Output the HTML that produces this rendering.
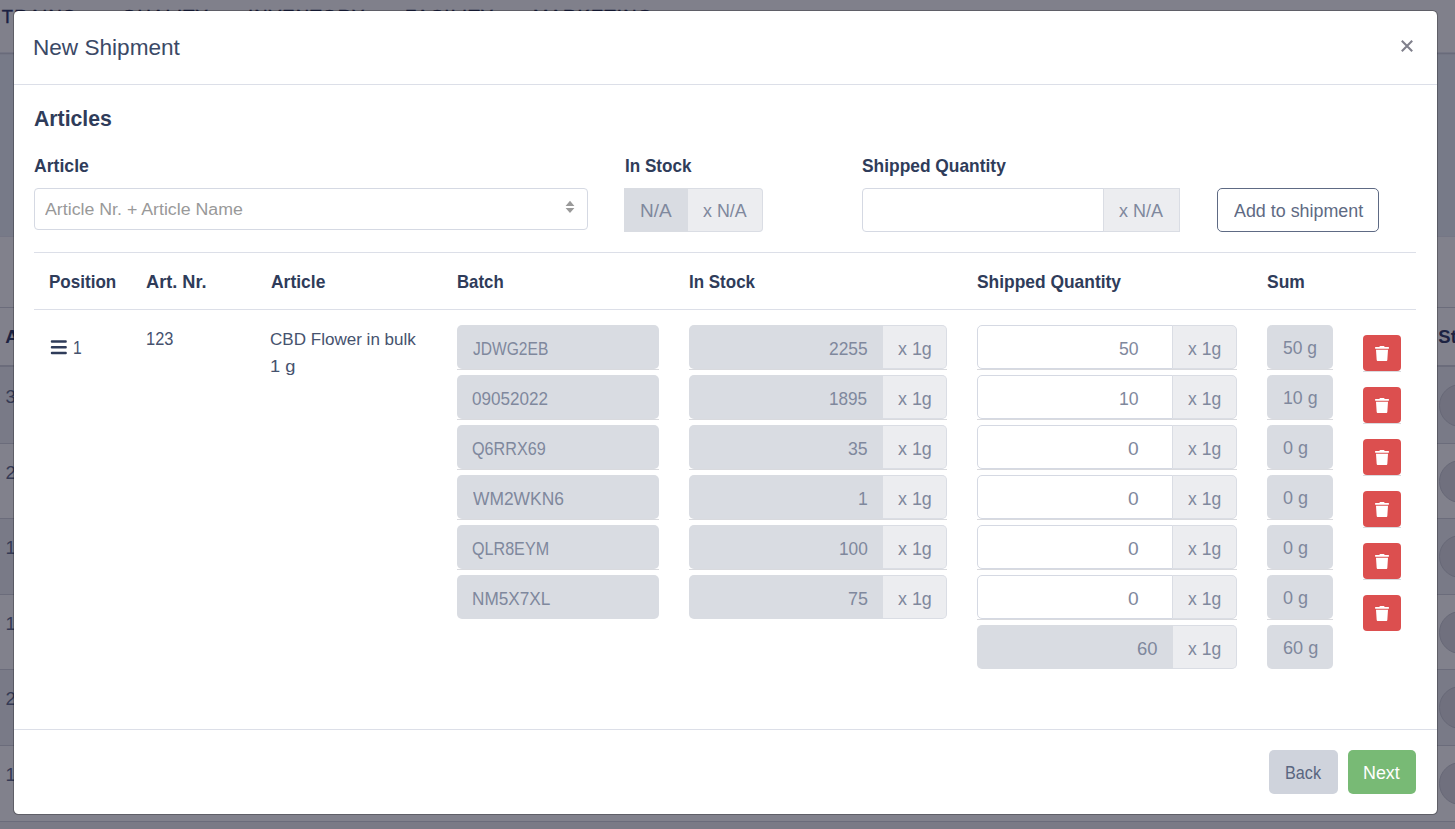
<!DOCTYPE html>
<html lang="en"><head><meta charset="utf-8"><title>New Shipment</title>
<style>
html,body{margin:0;padding:0}
body{width:1455px;height:829px;overflow:hidden;position:relative;background:#777a88;font-family:"Liberation Sans",sans-serif}
.b{position:absolute;box-sizing:border-box;display:block}
.t{position:absolute;white-space:pre;line-height:24px;transform-origin:0 0;display:block}
#modal{position:absolute;left:13px;top:10px;width:1425px;height:805px;box-sizing:border-box;background:#fff;border:1px solid rgba(0,0,0,.26);border-radius:5.5px;background-clip:padding-box}
#layer{position:absolute;left:0;top:0;width:1455px;height:829px}
</style></head><body>
<div id="bg">
<div class="b" style="left:0px;top:0px;width:1455px;height:52px;background:#80808b"></div>
<div class="b" style="left:0px;top:52px;width:1455px;height:1px;background:#747584"></div>
<div class="b" style="left:0px;top:53px;width:1455px;height:1px;background:#696b7a"></div>
<div class="b" style="left:0px;top:54px;width:1455px;height:1px;background:#737584"></div>
<div class="b" style="left:0px;top:236px;width:1455px;height:586px;background:#81818c"></div>
<div class="b" style="left:0px;top:236px;width:1455px;height:1px;background:#757685"></div>
<div class="b" style="left:0px;top:822px;width:1455px;height:7px;background:#7a7a86"></div>
<div class="b" style="left:0px;top:307px;width:1455px;height:1px;background:#6b6c7b"></div>
<div class="b" style="left:0px;top:365px;width:1455px;height:2px;background:#6b6c7b"></div>
<div class="b" style="left:0px;top:367px;width:1455px;height:76px;background:#797a87"></div>
<div class="b" style="left:0px;top:518px;width:1455px;height:76px;background:#797a87"></div>
<div class="b" style="left:0px;top:669px;width:1455px;height:76px;background:#797a87"></div>
<div class="b" style="left:0px;top:443px;width:1455px;height:1px;background:#6b6c7b"></div>
<div class="b" style="left:1438.5px;top:384.0px;width:43px;height:43px;border-radius:50%;background:#70707e;border:1px solid #676877"></div>
<div class="b" style="left:0px;top:518px;width:1455px;height:1px;background:#6b6c7b"></div>
<div class="b" style="left:1438.5px;top:459.5px;width:43px;height:43px;border-radius:50%;background:#70707e;border:1px solid #676877"></div>
<div class="b" style="left:0px;top:594px;width:1455px;height:1px;background:#6b6c7b"></div>
<div class="b" style="left:1438.5px;top:535.0px;width:43px;height:43px;border-radius:50%;background:#70707e;border:1px solid #676877"></div>
<div class="b" style="left:0px;top:669px;width:1455px;height:1px;background:#6b6c7b"></div>
<div class="b" style="left:1438.5px;top:610.5px;width:43px;height:43px;border-radius:50%;background:#70707e;border:1px solid #676877"></div>
<div class="b" style="left:0px;top:745px;width:1455px;height:1px;background:#6b6c7b"></div>
<div class="b" style="left:1438.5px;top:686.0px;width:43px;height:43px;border-radius:50%;background:#70707e;border:1px solid #676877"></div>
<div class="b" style="left:0px;top:821px;width:1455px;height:1px;background:#6b6c7b"></div>
<div class="b" style="left:1438.5px;top:762.0px;width:43px;height:43px;border-radius:50%;background:#70707e;border:1px solid #676877"></div>
<span class="t" style="left:1.8px;top:4.62px;font-size:18.4px;font-weight:400;color:#1b2142;letter-spacing:1.2px;-webkit-text-stroke:0.4px #1b2142">TRAINS</span>
<span class="t" style="left:122px;top:4.62px;font-size:18.4px;font-weight:400;color:#1b2142;letter-spacing:1.2px;-webkit-text-stroke:0.4px #1b2142">QUALITY</span>
<span class="t" style="left:248px;top:4.62px;font-size:18.4px;font-weight:400;color:#1b2142;letter-spacing:1.2px;-webkit-text-stroke:0.4px #1b2142">INVENTORY</span>
<span class="t" style="left:405px;top:4.62px;font-size:18.4px;font-weight:400;color:#1b2142;letter-spacing:1.2px;-webkit-text-stroke:0.4px #1b2142">FACILITY</span>
<span class="t" style="left:533px;top:4.62px;font-size:18.4px;font-weight:400;color:#1b2142;letter-spacing:1.2px;-webkit-text-stroke:0.4px #1b2142">MARKETING</span>
<span class="t" style="left:5.2px;top:324.59px;font-size:18.5px;font-weight:700;color:#1d2342;">A</span>
<span class="t" style="left:1438.3px;top:324.59px;font-size:18.5px;font-weight:700;color:#1d2342;">Status</span>
<span class="t" style="left:5.5px;top:385.09px;font-size:18.5px;font-weight:400;color:#353a55;">3</span>
<span class="t" style="left:5.5px;top:460.59px;font-size:18.5px;font-weight:400;color:#353a55;">2</span>
<span class="t" style="left:5.5px;top:536.09px;font-size:18.5px;font-weight:400;color:#353a55;">1</span>
<span class="t" style="left:5.5px;top:611.59px;font-size:18.5px;font-weight:400;color:#353a55;">1</span>
<span class="t" style="left:5.5px;top:687.09px;font-size:18.5px;font-weight:400;color:#353a55;">2</span>
<span class="t" style="left:5.5px;top:762.59px;font-size:18.5px;font-weight:400;color:#353a55;">1</span>
</div>
<div id="modal"></div>
<div id="layer">
<div class="b" style="left:14px;top:84px;width:1423px;height:1px;background:#dcdfe8"></div>
<div class="b" style="left:14px;top:729px;width:1423px;height:1px;background:#dcdfe8"></div>
<div class="b" style="left:34px;top:252px;width:1382px;height:1px;background:#dcdfe8"></div>
<div class="b" style="left:34px;top:309px;width:1382px;height:1px;background:#dcdfe8"></div>
<div class="b" style="left:34px;top:188px;width:554px;height:42px;border:1px solid #d5d9e3;border-radius:4px;background:#fff"></div>
<div class="b" style="left:624px;top:188px;width:64px;height:44px;background:#d9dce2"></div>
<div class="b" style="left:688px;top:188px;width:75px;height:44px;background:#ecedf0;border:1px solid #dadde4;border-left:0;border-radius:0 4px 4px 0"></div>
<div class="b" style="left:862px;top:188px;width:242px;height:44px;border:1px solid #d5d9e3;border-radius:4px 0 0 4px;background:#fff"></div>
<div class="b" style="left:1103px;top:188px;width:77px;height:44px;background:#ecedf0;border:1px solid #dadde4"></div>
<div class="b" style="left:1217px;top:188px;width:162px;height:44px;border:1px solid #5e6a84;border-radius:5px;background:#fff"></div>
<div class="b" style="left:457px;top:369px;width:202px;height:1px;background:#d9dade"></div>
<div class="b" style="left:689px;top:369px;width:258px;height:1px;background:#d9dade"></div>
<div class="b" style="left:977px;top:369px;width:260px;height:1px;background:#d9dade"></div>
<div class="b" style="left:1267px;top:369px;width:66px;height:1px;background:#d9dade"></div>
<div class="b" style="left:457px;top:325px;width:202px;height:44px;background:#d9dce2;border-radius:5px;"></div>
<div class="b" style="left:689px;top:325px;width:194px;height:44px;background:#d9dce2;border-radius:5px 0 0 5px;"></div>
<div class="b" style="left:883px;top:325px;width:64px;height:44px;background:#ecedf0;border:1px solid #dadde4;border-left:0;border-radius:0 5px 5px 0;"></div>
<div class="b" style="left:977px;top:325px;width:196px;height:44px;background:#fff;border:1px solid #d5d9e3;border-radius:5px 0 0 5px;"></div>
<div class="b" style="left:1172px;top:325px;width:65px;height:44px;background:#ecedf0;border:1px solid #dadde4;border-radius:0 5px 5px 0;"></div>
<div class="b" style="left:1267px;top:325px;width:66px;height:44px;background:#d9dce2;border-radius:5px;"></div>
<div class="b" style="left:1363px;top:335px;width:38px;height:36px;background:#dc4f4f;border-radius:4px;"></div>
<div class="b" style="left:1363px;top:371px;width:38px;height:1px;background:#d9dade"></div>
<svg class="b" style="left:1375px;top:345.8px" width="14" height="15.2" viewBox="0 0 448 512" preserveAspectRatio="none"><path fill="#fff" d="M432 32H312l-9.4-18.7A24 24 0 0 0 281.1 0H166.8a23.72 23.72 0 0 0-21.4 13.3L136 32H16A16 16 0 0 0 0 48v32a16 16 0 0 0 16 16h416a16 16 0 0 0 16-16V48a16 16 0 0 0-16-16zM53.2 467a48 48 0 0 0 47.9 45h245.8a48 48 0 0 0 47.9-45L416 128H32z"/></svg>
<div class="b" style="left:457px;top:419px;width:202px;height:1px;background:#d9dade"></div>
<div class="b" style="left:689px;top:419px;width:258px;height:1px;background:#d9dade"></div>
<div class="b" style="left:977px;top:419px;width:260px;height:1px;background:#d9dade"></div>
<div class="b" style="left:1267px;top:419px;width:66px;height:1px;background:#d9dade"></div>
<div class="b" style="left:457px;top:375px;width:202px;height:44px;background:#d9dce2;border-radius:5px;"></div>
<div class="b" style="left:689px;top:375px;width:194px;height:44px;background:#d9dce2;border-radius:5px 0 0 5px;"></div>
<div class="b" style="left:883px;top:375px;width:64px;height:44px;background:#ecedf0;border:1px solid #dadde4;border-left:0;border-radius:0 5px 5px 0;"></div>
<div class="b" style="left:977px;top:375px;width:196px;height:44px;background:#fff;border:1px solid #d5d9e3;border-radius:5px 0 0 5px;"></div>
<div class="b" style="left:1172px;top:375px;width:65px;height:44px;background:#ecedf0;border:1px solid #dadde4;border-radius:0 5px 5px 0;"></div>
<div class="b" style="left:1267px;top:375px;width:66px;height:44px;background:#d9dce2;border-radius:5px;"></div>
<div class="b" style="left:1363px;top:387px;width:38px;height:36px;background:#dc4f4f;border-radius:4px;"></div>
<div class="b" style="left:1363px;top:423px;width:38px;height:1px;background:#d9dade"></div>
<svg class="b" style="left:1375px;top:397.8px" width="14" height="15.2" viewBox="0 0 448 512" preserveAspectRatio="none"><path fill="#fff" d="M432 32H312l-9.4-18.7A24 24 0 0 0 281.1 0H166.8a23.72 23.72 0 0 0-21.4 13.3L136 32H16A16 16 0 0 0 0 48v32a16 16 0 0 0 16 16h416a16 16 0 0 0 16-16V48a16 16 0 0 0-16-16zM53.2 467a48 48 0 0 0 47.9 45h245.8a48 48 0 0 0 47.9-45L416 128H32z"/></svg>
<div class="b" style="left:457px;top:469px;width:202px;height:1px;background:#d9dade"></div>
<div class="b" style="left:689px;top:469px;width:258px;height:1px;background:#d9dade"></div>
<div class="b" style="left:977px;top:469px;width:260px;height:1px;background:#d9dade"></div>
<div class="b" style="left:1267px;top:469px;width:66px;height:1px;background:#d9dade"></div>
<div class="b" style="left:457px;top:425px;width:202px;height:44px;background:#d9dce2;border-radius:5px;"></div>
<div class="b" style="left:689px;top:425px;width:194px;height:44px;background:#d9dce2;border-radius:5px 0 0 5px;"></div>
<div class="b" style="left:883px;top:425px;width:64px;height:44px;background:#ecedf0;border:1px solid #dadde4;border-left:0;border-radius:0 5px 5px 0;"></div>
<div class="b" style="left:977px;top:425px;width:196px;height:44px;background:#fff;border:1px solid #d5d9e3;border-radius:5px 0 0 5px;"></div>
<div class="b" style="left:1172px;top:425px;width:65px;height:44px;background:#ecedf0;border:1px solid #dadde4;border-radius:0 5px 5px 0;"></div>
<div class="b" style="left:1267px;top:425px;width:66px;height:44px;background:#d9dce2;border-radius:5px;"></div>
<div class="b" style="left:1363px;top:439px;width:38px;height:36px;background:#dc4f4f;border-radius:4px;"></div>
<div class="b" style="left:1363px;top:475px;width:38px;height:1px;background:#d9dade"></div>
<svg class="b" style="left:1375px;top:449.8px" width="14" height="15.2" viewBox="0 0 448 512" preserveAspectRatio="none"><path fill="#fff" d="M432 32H312l-9.4-18.7A24 24 0 0 0 281.1 0H166.8a23.72 23.72 0 0 0-21.4 13.3L136 32H16A16 16 0 0 0 0 48v32a16 16 0 0 0 16 16h416a16 16 0 0 0 16-16V48a16 16 0 0 0-16-16zM53.2 467a48 48 0 0 0 47.9 45h245.8a48 48 0 0 0 47.9-45L416 128H32z"/></svg>
<div class="b" style="left:457px;top:519px;width:202px;height:1px;background:#d9dade"></div>
<div class="b" style="left:689px;top:519px;width:258px;height:1px;background:#d9dade"></div>
<div class="b" style="left:977px;top:519px;width:260px;height:1px;background:#d9dade"></div>
<div class="b" style="left:1267px;top:519px;width:66px;height:1px;background:#d9dade"></div>
<div class="b" style="left:457px;top:475px;width:202px;height:44px;background:#d9dce2;border-radius:5px;"></div>
<div class="b" style="left:689px;top:475px;width:194px;height:44px;background:#d9dce2;border-radius:5px 0 0 5px;"></div>
<div class="b" style="left:883px;top:475px;width:64px;height:44px;background:#ecedf0;border:1px solid #dadde4;border-left:0;border-radius:0 5px 5px 0;"></div>
<div class="b" style="left:977px;top:475px;width:196px;height:44px;background:#fff;border:1px solid #d5d9e3;border-radius:5px 0 0 5px;"></div>
<div class="b" style="left:1172px;top:475px;width:65px;height:44px;background:#ecedf0;border:1px solid #dadde4;border-radius:0 5px 5px 0;"></div>
<div class="b" style="left:1267px;top:475px;width:66px;height:44px;background:#d9dce2;border-radius:5px;"></div>
<div class="b" style="left:1363px;top:491px;width:38px;height:36px;background:#dc4f4f;border-radius:4px;"></div>
<div class="b" style="left:1363px;top:527px;width:38px;height:1px;background:#d9dade"></div>
<svg class="b" style="left:1375px;top:501.8px" width="14" height="15.2" viewBox="0 0 448 512" preserveAspectRatio="none"><path fill="#fff" d="M432 32H312l-9.4-18.7A24 24 0 0 0 281.1 0H166.8a23.72 23.72 0 0 0-21.4 13.3L136 32H16A16 16 0 0 0 0 48v32a16 16 0 0 0 16 16h416a16 16 0 0 0 16-16V48a16 16 0 0 0-16-16zM53.2 467a48 48 0 0 0 47.9 45h245.8a48 48 0 0 0 47.9-45L416 128H32z"/></svg>
<div class="b" style="left:457px;top:569px;width:202px;height:1px;background:#d9dade"></div>
<div class="b" style="left:689px;top:569px;width:258px;height:1px;background:#d9dade"></div>
<div class="b" style="left:977px;top:569px;width:260px;height:1px;background:#d9dade"></div>
<div class="b" style="left:1267px;top:569px;width:66px;height:1px;background:#d9dade"></div>
<div class="b" style="left:457px;top:525px;width:202px;height:44px;background:#d9dce2;border-radius:5px;"></div>
<div class="b" style="left:689px;top:525px;width:194px;height:44px;background:#d9dce2;border-radius:5px 0 0 5px;"></div>
<div class="b" style="left:883px;top:525px;width:64px;height:44px;background:#ecedf0;border:1px solid #dadde4;border-left:0;border-radius:0 5px 5px 0;"></div>
<div class="b" style="left:977px;top:525px;width:196px;height:44px;background:#fff;border:1px solid #d5d9e3;border-radius:5px 0 0 5px;"></div>
<div class="b" style="left:1172px;top:525px;width:65px;height:44px;background:#ecedf0;border:1px solid #dadde4;border-radius:0 5px 5px 0;"></div>
<div class="b" style="left:1267px;top:525px;width:66px;height:44px;background:#d9dce2;border-radius:5px;"></div>
<div class="b" style="left:1363px;top:543px;width:38px;height:36px;background:#dc4f4f;border-radius:4px;"></div>
<div class="b" style="left:1363px;top:579px;width:38px;height:1px;background:#d9dade"></div>
<svg class="b" style="left:1375px;top:553.8px" width="14" height="15.2" viewBox="0 0 448 512" preserveAspectRatio="none"><path fill="#fff" d="M432 32H312l-9.4-18.7A24 24 0 0 0 281.1 0H166.8a23.72 23.72 0 0 0-21.4 13.3L136 32H16A16 16 0 0 0 0 48v32a16 16 0 0 0 16 16h416a16 16 0 0 0 16-16V48a16 16 0 0 0-16-16zM53.2 467a48 48 0 0 0 47.9 45h245.8a48 48 0 0 0 47.9-45L416 128H32z"/></svg>
<div class="b" style="left:977px;top:619px;width:260px;height:1px;background:#d9dade"></div>
<div class="b" style="left:1267px;top:619px;width:66px;height:1px;background:#d9dade"></div>
<div class="b" style="left:457px;top:575px;width:202px;height:44px;background:#d9dce2;border-radius:5px;"></div>
<div class="b" style="left:689px;top:575px;width:194px;height:44px;background:#d9dce2;border-radius:5px 0 0 5px;"></div>
<div class="b" style="left:883px;top:575px;width:64px;height:44px;background:#ecedf0;border:1px solid #dadde4;border-left:0;border-radius:0 5px 5px 0;"></div>
<div class="b" style="left:977px;top:575px;width:196px;height:44px;background:#fff;border:1px solid #d5d9e3;border-radius:5px 0 0 5px;"></div>
<div class="b" style="left:1172px;top:575px;width:65px;height:44px;background:#ecedf0;border:1px solid #dadde4;border-radius:0 5px 5px 0;"></div>
<div class="b" style="left:1267px;top:575px;width:66px;height:44px;background:#d9dce2;border-radius:5px;"></div>
<div class="b" style="left:1363px;top:595px;width:38px;height:36px;background:#dc4f4f;border-radius:4px;"></div>
<svg class="b" style="left:1375px;top:605.8px" width="14" height="15.2" viewBox="0 0 448 512" preserveAspectRatio="none"><path fill="#fff" d="M432 32H312l-9.4-18.7A24 24 0 0 0 281.1 0H166.8a23.72 23.72 0 0 0-21.4 13.3L136 32H16A16 16 0 0 0 0 48v32a16 16 0 0 0 16 16h416a16 16 0 0 0 16-16V48a16 16 0 0 0-16-16zM53.2 467a48 48 0 0 0 47.9 45h245.8a48 48 0 0 0 47.9-45L416 128H32z"/></svg>
<div class="b" style="left:977px;top:625px;width:196px;height:44px;background:#d9dce2;border-radius:5px 0 0 5px;"></div>
<div class="b" style="left:1173px;top:625px;width:64px;height:44px;background:#ecedf0;border:1px solid #dadde4;border-left:0;border-radius:0 5px 5px 0;"></div>
<div class="b" style="left:1267px;top:625px;width:66px;height:44px;background:#d9dce2;border-radius:5px;"></div>
<div class="b" style="left:1269px;top:750px;width:69px;height:44px;background:#cfd3dc;border-radius:5px"></div>
<div class="b" style="left:1348px;top:750px;width:68px;height:44px;background:#78ba75;border-radius:5px"></div>
<svg class="b" style="left:50px;top:339px" width="18" height="17" viewBox="0 0 18 17"><g fill="#2f3c5a"><rect x="0.8" y="1.3" width="16" height="2.4" rx="1"/><rect x="0.8" y="7" width="16" height="2.4" rx="1"/><rect x="0.8" y="12.8" width="16" height="2.4" rx="1"/></g></svg>
<svg class="b" style="left:1400px;top:39px" width="14" height="14" viewBox="0 0 14 14"><path d="M1.8 1.8L12.2 12.2M12.2 1.8L1.8 12.2" stroke="#80808c" stroke-width="2.1" fill="none"/></svg>
<svg class="b" style="left:565px;top:200px" width="10" height="14" viewBox="0 0 10 14"><path d="M5 0.8L9.4 6H0.6zM5 13.1L0.6 8H9.4z" fill="#9a9a9a"/></svg>
<span class="t" style="left:32.84px;top:36.02px;font-size:21.6px;font-weight:400;color:#3b4966;transform:scaleX(1.0457)">New Shipment</span>
<span class="t" style="left:34.27px;top:106.92px;font-size:21.6px;font-weight:700;color:#2f3c5a;transform:scaleX(0.9830)">Articles</span>
<span class="t" style="left:33.72px;top:154.10px;font-size:17.9px;font-weight:700;color:#2f3c5a;transform:scaleX(0.9857)">Article</span>
<span class="t" style="left:625.13px;top:154.10px;font-size:17.9px;font-weight:700;color:#2f3c5a;transform:scaleX(0.9560)">In Stock</span>
<span class="t" style="left:862.03px;top:154.10px;font-size:17.9px;font-weight:700;color:#2f3c5a;transform:scaleX(0.9709)">Shipped Quantity</span>
<span class="t" style="left:45.00px;top:196.61px;font-size:17.3px;font-weight:400;color:#999999;transform:scaleX(1.0274)">Article Nr. + Article Name</span>
<span class="t" style="left:639.71px;top:198.96px;font-size:18.3px;font-weight:400;color:#7f889d;transform:scaleX(1.0389)">N/A</span>
<span class="t" style="left:703.00px;top:198.96px;font-size:18.3px;font-weight:400;color:#7f889d;transform:scaleX(0.9770)">x N/A</span>
<span class="t" style="left:1119.30px;top:198.96px;font-size:18.3px;font-weight:400;color:#7f889d;transform:scaleX(0.9837)">x N/A</span>
<span class="t" style="left:1233.60px;top:198.96px;font-size:18.3px;font-weight:400;color:#5e6a83;transform:scaleX(0.9780)">Add to shipment</span>
<span class="t" style="left:48.53px;top:270.10px;font-size:17.9px;font-weight:700;color:#2f3c5a;transform:scaleX(0.9531)">Position</span>
<span class="t" style="left:145.72px;top:270.10px;font-size:17.9px;font-weight:700;color:#2f3c5a;transform:scaleX(1.0164)">Art. Nr.</span>
<span class="t" style="left:270.73px;top:270.10px;font-size:17.9px;font-weight:700;color:#2f3c5a;transform:scaleX(0.9766)">Article</span>
<span class="t" style="left:456.65px;top:270.10px;font-size:17.9px;font-weight:700;color:#2f3c5a;transform:scaleX(0.9383)">Batch</span>
<span class="t" style="left:688.54px;top:270.10px;font-size:17.9px;font-weight:700;color:#2f3c5a;transform:scaleX(0.9487)">In Stock</span>
<span class="t" style="left:977.13px;top:270.10px;font-size:17.9px;font-weight:700;color:#2f3c5a;transform:scaleX(0.9723)">Shipped Quantity</span>
<span class="t" style="left:1266.53px;top:270.10px;font-size:17.9px;font-weight:700;color:#2f3c5a;transform:scaleX(0.9755)">Sum</span>
<span class="t" style="left:73.02px;top:335.56px;font-size:18.6px;font-weight:400;color:#46526e;transform:scaleX(0.8400)">1</span>
<span class="t" style="left:145.97px;top:326.86px;font-size:18.6px;font-weight:400;color:#46526e;transform:scaleX(0.8826)">123</span>
<span class="t" style="left:270.20px;top:326.71px;font-size:17.3px;font-weight:400;color:#46526e;transform:scaleX(0.9863)">CBD Flower in bulk</span>
<span class="t" style="left:269.85px;top:354.01px;font-size:17.3px;font-weight:400;color:#46526e;transform:scaleX(1.0593)">1 g</span>
<span class="t" style="left:472.76px;top:336.96px;font-size:18.3px;font-weight:400;color:#7f889d;transform:scaleX(0.8523)">JDWG2EB</span>
<span class="t" style="left:828.88px;top:336.86px;font-size:18.6px;font-weight:400;color:#7f889d;transform:scaleX(0.9358)">2255</span>
<span class="t" style="left:898.00px;top:336.96px;font-size:18.3px;font-weight:400;color:#7f889d;transform:scaleX(0.9773)">x 1g</span>
<span class="t" style="left:1119.45px;top:336.86px;font-size:18.6px;font-weight:400;color:#7f889d;transform:scaleX(0.9468)">50</span>
<span class="t" style="left:1187.80px;top:336.96px;font-size:18.3px;font-weight:400;color:#7f889d;transform:scaleX(0.9594)">x 1g</span>
<span class="t" style="left:1283.46px;top:335.86px;font-size:18.6px;font-weight:400;color:#7f889d;transform:scaleX(0.9371)">50 g</span>
<span class="t" style="left:472.47px;top:386.96px;font-size:18.3px;font-weight:400;color:#7f889d;transform:scaleX(0.9350)">09052022</span>
<span class="t" style="left:829.43px;top:386.86px;font-size:18.6px;font-weight:400;color:#7f889d;transform:scaleX(0.9224)">1895</span>
<span class="t" style="left:898.00px;top:386.96px;font-size:18.3px;font-weight:400;color:#7f889d;transform:scaleX(0.9773)">x 1g</span>
<span class="t" style="left:1119.40px;top:386.86px;font-size:18.6px;font-weight:400;color:#7f889d;transform:scaleX(0.9495)">10</span>
<span class="t" style="left:1187.80px;top:386.96px;font-size:18.3px;font-weight:400;color:#7f889d;transform:scaleX(0.9594)">x 1g</span>
<span class="t" style="left:1282.89px;top:385.86px;font-size:18.6px;font-weight:400;color:#7f889d;transform:scaleX(0.9531)">10 g</span>
<span class="t" style="left:472.24px;top:436.96px;font-size:18.3px;font-weight:400;color:#7f889d;transform:scaleX(0.8850)">Q6RRX69</span>
<span class="t" style="left:847.95px;top:436.86px;font-size:18.6px;font-weight:400;color:#7f889d;transform:scaleX(0.9507)">35</span>
<span class="t" style="left:898.00px;top:436.96px;font-size:18.3px;font-weight:400;color:#7f889d;transform:scaleX(0.9773)">x 1g</span>
<span class="t" style="left:1128.40px;top:436.86px;font-size:18.6px;font-weight:400;color:#7f889d;transform:scaleX(1.0323)">0</span>
<span class="t" style="left:1187.80px;top:436.96px;font-size:18.3px;font-weight:400;color:#7f889d;transform:scaleX(0.9594)">x 1g</span>
<span class="t" style="left:1283.44px;top:435.86px;font-size:18.6px;font-weight:400;color:#7f889d;transform:scaleX(0.9698)">0 g</span>
<span class="t" style="left:473.00px;top:486.96px;font-size:18.3px;font-weight:400;color:#7f889d;transform:scaleX(0.9523)">WM2WKN6</span>
<span class="t" style="left:857.80px;top:486.86px;font-size:18.6px;font-weight:400;color:#7f889d;transform:scaleX(0.9492)">1</span>
<span class="t" style="left:898.00px;top:486.96px;font-size:18.3px;font-weight:400;color:#7f889d;transform:scaleX(0.9773)">x 1g</span>
<span class="t" style="left:1128.40px;top:486.86px;font-size:18.6px;font-weight:400;color:#7f889d;transform:scaleX(1.0323)">0</span>
<span class="t" style="left:1187.80px;top:486.96px;font-size:18.3px;font-weight:400;color:#7f889d;transform:scaleX(0.9594)">x 1g</span>
<span class="t" style="left:1283.44px;top:485.86px;font-size:18.6px;font-weight:400;color:#7f889d;transform:scaleX(0.9698)">0 g</span>
<span class="t" style="left:472.24px;top:536.96px;font-size:18.3px;font-weight:400;color:#7f889d;transform:scaleX(0.8820)">QLR8EYM</span>
<span class="t" style="left:838.52px;top:536.86px;font-size:18.6px;font-weight:400;color:#7f889d;transform:scaleX(0.9283)">100</span>
<span class="t" style="left:898.00px;top:536.96px;font-size:18.3px;font-weight:400;color:#7f889d;transform:scaleX(0.9773)">x 1g</span>
<span class="t" style="left:1128.40px;top:536.86px;font-size:18.6px;font-weight:400;color:#7f889d;transform:scaleX(1.0323)">0</span>
<span class="t" style="left:1187.80px;top:536.96px;font-size:18.3px;font-weight:400;color:#7f889d;transform:scaleX(0.9594)">x 1g</span>
<span class="t" style="left:1283.44px;top:535.86px;font-size:18.6px;font-weight:400;color:#7f889d;transform:scaleX(0.9698)">0 g</span>
<span class="t" style="left:471.65px;top:586.96px;font-size:18.3px;font-weight:400;color:#7f889d;transform:scaleX(0.9409)">NM5X7XL</span>
<span class="t" style="left:847.66px;top:586.86px;font-size:18.6px;font-weight:400;color:#7f889d;transform:scaleX(0.9652)">75</span>
<span class="t" style="left:898.00px;top:586.96px;font-size:18.3px;font-weight:400;color:#7f889d;transform:scaleX(0.9773)">x 1g</span>
<span class="t" style="left:1128.40px;top:586.86px;font-size:18.6px;font-weight:400;color:#7f889d;transform:scaleX(1.0323)">0</span>
<span class="t" style="left:1187.80px;top:586.96px;font-size:18.3px;font-weight:400;color:#7f889d;transform:scaleX(0.9594)">x 1g</span>
<span class="t" style="left:1283.44px;top:585.86px;font-size:18.6px;font-weight:400;color:#7f889d;transform:scaleX(0.9698)">0 g</span>
<span class="t" style="left:1137.34px;top:636.86px;font-size:18.6px;font-weight:400;color:#7f889d;transform:scaleX(0.9921)">60</span>
<span class="t" style="left:1187.80px;top:636.96px;font-size:18.3px;font-weight:400;color:#7f889d;transform:scaleX(0.9594)">x 1g</span>
<span class="t" style="left:1282.75px;top:635.86px;font-size:18.6px;font-weight:400;color:#7f889d;transform:scaleX(0.9742)">60 g</span>
<span class="t" style="left:1285.03px;top:760.96px;font-size:18.3px;font-weight:400;color:#5a6680;transform:scaleX(0.8852)">Back</span>
<span class="t" style="left:1363.20px;top:760.96px;font-size:18.3px;font-weight:400;color:#ffffff;transform:scaleX(0.9763)">Next</span>
</div>
</body></html>
